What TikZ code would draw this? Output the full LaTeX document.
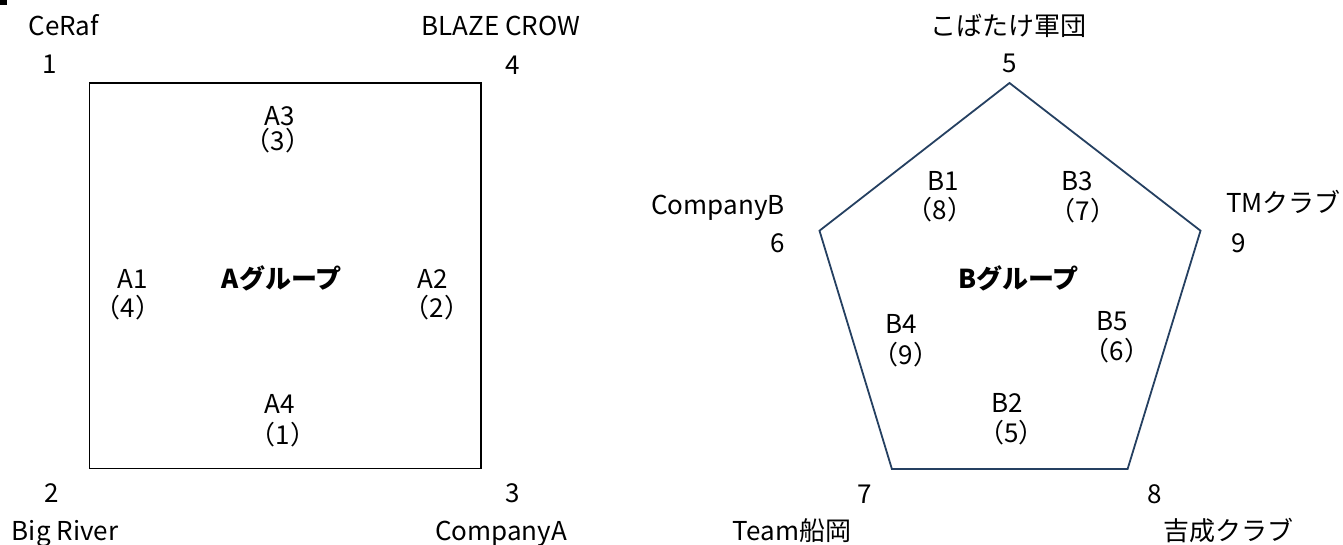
\documentclass[tikz,border=0pt]{standalone}
\usepackage{fontspec}
\setmainfont{Noto Sans CJK JP}
\definecolor{bleunuit}{RGB}{37,64,97}

\begin{document}
\begin{tikzpicture}[x=1pt,y=-1pt]
\tikzset{etiq/.style={anchor=base, inner sep=0pt, font=\fontsize{26}{30}\selectfont}}
\tikzset{groupe/.style={etiq, font=\fontsize{26}{30}\selectfont\bfseries}}
\useasboundingbox (0,0) rectangle (1343,544);
\fill (0,0) rectangle (7,5);
% groupe A
\coordinate (V1) at (89.3,83);
\coordinate (V2) at (89.3,468.7);
\coordinate (V3) at (481,468.7);
\coordinate (V4) at (481,83);
\draw[line width=1.3pt] (V1) -- (V2) -- (V3) -- (V4) -- cycle;
\node[etiq] (N1) at (50,73.5) {1};
\node[etiq] (T1) at (63.7,35) {CeRaf};
\node[etiq] (N2) at (51.5,502) {2};
\node[etiq] (T2) at (65,540) {Big River};
\node[etiq] (N3) at (513,502) {3};
\node[etiq] (T3) at (501,540) {CompanyA};
\node[etiq] (N4) at (512.7,74) {4};
\node[etiq] (T4) at (501,35) {BLAZE CROW};
\node[groupe] (GA) at (281.7,288) {Aグループ};
\node[etiq] (A1) at (132.5,288) {A1};
\node[etiq] (P1) at (128,317) {（4）};
\node[etiq] (A2) at (433,288) {A2};
\node[etiq] (P2) at (437,317) {（2）};
\node[etiq] (A3) at (280,125) {A3};
\node[etiq] (P3) at (278,150) {（3）};
\node[etiq] (A4) at (279.5,413) {A4};
\node[etiq] (P4) at (283,444) {（1）};
% groupe B
\coordinate (V5) at (1009.5,83);
\coordinate (V6) at (819.5,230.7);
\coordinate (V7) at (891.9,469);
\coordinate (V8) at (1127.6,469);
\coordinate (V9) at (1200.5,230.7);
\draw[line width=1.8pt, bleunuit] (V5) -- (V6) -- (V7) -- (V8) -- (V9) -- cycle;
\node[etiq] (N5) at (1010,72) {5};
\node[etiq] (T5) at (1008.5,35) {こばたけ軍団};
\node[etiq] (N6) at (778,252) {6};
\node[etiq] (T6) at (718,214) {CompanyB};
\node[etiq] (N7) at (865,503) {7};
\node[etiq] (T7) at (792,540) {Team船岡};
\node[etiq] (N8) at (1155,503) {8};
\node[etiq] (T8) at (1228,540) {吉成クラブ};
\node[etiq] (N9) at (1239,252) {9};
\node[etiq, anchor=base east] (T9) at (1341,212) {TMクラブ};
\node[groupe] (GB) at (1018.6,288) {Bグループ};
\node[etiq] (B1) at (943,190) {B1};
\node[etiq] (Q1) at (940,219) {（8）};
\node[etiq] (B2) at (1007.5,412) {B2};
\node[etiq] (Q2) at (1011.5,442) {（5）};
\node[etiq] (B3) at (1077,190) {B3};
\node[etiq] (Q3) at (1083,220) {（7）};
\node[etiq] (B4) at (901,333) {B4};
\node[etiq] (Q4) at (906,364) {（9）};
\node[etiq] (B5) at (1112,330) {B5};
\node[etiq] (Q5) at (1117,360) {（6）};
\end{tikzpicture}
\end{document}
